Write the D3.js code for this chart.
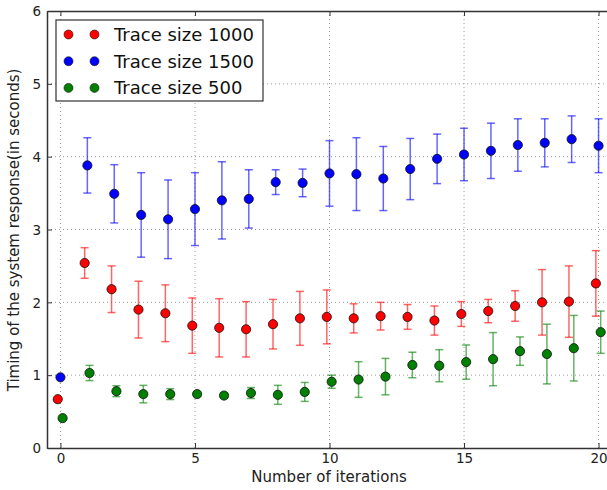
<!DOCTYPE html>
<html>
<head>
<meta charset="utf-8">
<script src="https://cdn.jsdelivr.net/npm/d3@7"></script>
<style>
  html, body { margin: 0; padding: 0; background: #fff; }
  svg { display: block; font-family: "DejaVu Sans", sans-serif; }
</style>
</head>
<body>
<svg id="chart" width="607" height="490"></svg>
<script>
// Response timing vs. iteration, mean with error bars per trace size
const iterations = [0, 1, 2, 3, 4, 5, 6, 7, 8, 9, 10, 11, 12, 13, 14, 15, 16, 17, 18, 19, 20];

const trace1000Mean = [0.67, 2.54, 2.18, 1.90, 1.85, 1.68, 1.65, 1.63, 1.70, 1.78, 1.80, 1.78, 1.81, 1.80, 1.75, 1.84, 1.88, 1.95, 2.00, 2.01, 2.26];
const trace1000Err  = [0, 0.21, 0.32, 0.39, 0.39, 0.38, 0.40, 0.38, 0.34, 0.37, 0.37, 0.20, 0.19, 0.17, 0.20, 0.17, 0.16, 0.21, 0.45, 0.49, 0.45];

const trace1500Mean = [0.97, 3.88, 3.49, 3.20, 3.14, 3.28, 3.40, 3.42, 3.65, 3.64, 3.77, 3.76, 3.70, 3.83, 3.97, 4.03, 4.08, 4.16, 4.19, 4.24, 4.15];
const trace1500Err  = [0, 0.38, 0.40, 0.58, 0.54, 0.50, 0.53, 0.40, 0.17, 0.19, 0.45, 0.50, 0.44, 0.42, 0.34, 0.36, 0.38, 0.36, 0.33, 0.32, 0.37];

const trace500Mean = [0.41, 1.03, 0.78, 0.74, 0.74, 0.74, 0.72, 0.755, 0.73, 0.77, 0.91, 0.94, 0.98, 1.14, 1.13, 1.18, 1.22, 1.33, 1.29, 1.37, 1.59];
const trace500Err  = [0, 0.105, 0.075, 0.12, 0.075, 0.03, 0.03, 0.075, 0.13, 0.13, 0.09, 0.245, 0.25, 0.175, 0.22, 0.235, 0.365, 0.195, 0.41, 0.45, 0.29];

const seriesNames = ["Trace size 1000", "Trace size 1500", "Trace size 500"];

const xTicks = [0, 5, 10, 15, 20];
const yTicks = [0, 1, 2, 3, 4, 5, 6];

const xLabel = "Number of iterations";
const yLabel = "Timing of the system response(in seconds)";

const series = [
  { name: seriesNames[0], mean: trace1000Mean, err: trace1000Err, color: "#ff0000", dodge: -0.1 },
  { name: seriesNames[1], mean: trace1500Mean, err: trace1500Err, color: "#0000ff", dodge: 0 },
  { name: seriesNames[2], mean: trace500Mean,  err: trace500Err,  color: "#008000", dodge: 0.08 }
];

const svg = d3.select("#chart");
const frame = { left: 47, top: 11, bottom: 448, right: 612 };

const x = d3.scaleLinear().domain([-0.5, 20.5]).range([frame.left, frame.right]);
const y = d3.scaleLinear().domain([0, 6]).range([frame.bottom, frame.top]);

// dotted grid
const grid = svg.append("g").attr("stroke", "#999").attr("stroke-width", 1).attr("stroke-dasharray", "1,3");
grid.selectAll("line.gx").data(xTicks).join("line")
  .attr("x1", d => x(d)).attr("x2", d => x(d))
  .attr("y1", frame.top).attr("y2", frame.bottom);
grid.selectAll("line.gy").data(yTicks.slice(1, -1)).join("line")
  .attr("x1", frame.left).attr("x2", frame.right)
  .attr("y1", d => y(d)).attr("y2", d => y(d));

// axes with inward ticks
const fmt = d3.format("d");
const xAxis = svg.append("g").attr("transform", `translate(0,${frame.bottom})`)
  .call(d3.axisBottom(x).tickValues(xTicks).tickFormat(fmt).tickSizeInner(-5).tickSizeOuter(0).tickPadding(5.5));
const xAxisTop = svg.append("g").attr("transform", `translate(0,${frame.top})`)
  .call(d3.axisTop(x).tickValues(xTicks).tickSizeInner(-5).tickSizeOuter(0).tickFormat(""));
const yAxis = svg.append("g").attr("transform", `translate(${frame.left},0)`)
  .call(d3.axisLeft(y).tickValues(yTicks).tickFormat(fmt).tickSizeInner(-5).tickSizeOuter(0).tickPadding(6));

[xAxis, xAxisTop, yAxis].forEach(g => {
  g.select(".domain").attr("stroke", "#333").attr("stroke-width", 1.5);
  g.selectAll(".tick line").attr("stroke", "#333").attr("stroke-width", 1);
  g.selectAll(".tick text").attr("fill", "#222").style("font-size", "13.5px")
    .style("font-family", "'DejaVu Sans', sans-serif");
});
xAxis.selectAll(".tick text").attr("dy", "0.71em");
yAxis.selectAll(".tick text").attr("dy", "0.35em");

// error bars and markers
const capHalf = 4;
series.forEach(s => {
  const pts = iterations.map((it, i) => ({ it, m: s.mean[i], e: s.err[i] }));
  const eb = svg.append("g").attr("stroke", s.color).attr("stroke-opacity", 0.6).attr("stroke-width", 1.5);
  const withErr = pts.filter(p => p.e > 0);
  eb.selectAll("line.v").data(withErr).join("line")
    .attr("x1", p => x(p.it + s.dodge)).attr("x2", p => x(p.it + s.dodge))
    .attr("y1", p => y(p.m - p.e)).attr("y2", p => y(p.m + p.e));
  eb.selectAll("line.t").data(withErr).join("line")
    .attr("x1", p => x(p.it + s.dodge) - capHalf).attr("x2", p => x(p.it + s.dodge) + capHalf)
    .attr("y1", p => y(p.m + p.e)).attr("y2", p => y(p.m + p.e));
  eb.selectAll("line.b").data(withErr).join("line")
    .attr("x1", p => x(p.it + s.dodge) - capHalf).attr("x2", p => x(p.it + s.dodge) + capHalf)
    .attr("y1", p => y(p.m - p.e)).attr("y2", p => y(p.m - p.e));
  s.points = pts;
});
series.forEach(s => {
  svg.append("g").selectAll("circle").data(s.points).join("circle")
    .attr("cx", p => x(p.it + s.dodge)).attr("cy", p => y(p.m)).attr("r", 4.6)
    .attr("fill", s.color).attr("stroke", "#111").attr("stroke-width", 0.8);
});

// legend
const lg = svg.append("g").attr("transform", "translate(56,20)");
lg.append("rect").attr("width", 207).attr("height", 81)
  .attr("fill", "#fff").attr("stroke", "#333").attr("stroke-width", 1.2);
series.forEach((s, i) => {
  const row = lg.append("g").attr("transform", `translate(0,${14.5 + i * 26.7})`);
  [12.5, 38.5].forEach(cx => row.append("circle").attr("cx", cx).attr("cy", 0).attr("r", 4.5)
    .attr("fill", s.color).attr("stroke", "#111").attr("stroke-width", 0.6));
  row.append("text").attr("x", 58).attr("y", 0).attr("dy", "0.36em")
    .attr("fill", "#111").style("font-size", "18px").text(s.name);
});

// axis titles
svg.append("text").attr("x", 329).attr("y", 482)
  .attr("text-anchor", "middle").attr("fill", "#222").style("font-size", "15px").text(xLabel);
svg.append("text").attr("transform", `translate(19,230) rotate(-90)`)
  .attr("text-anchor", "middle").attr("fill", "#222").style("font-size", "15px").text(yLabel);
</script>
</body>
</html>
